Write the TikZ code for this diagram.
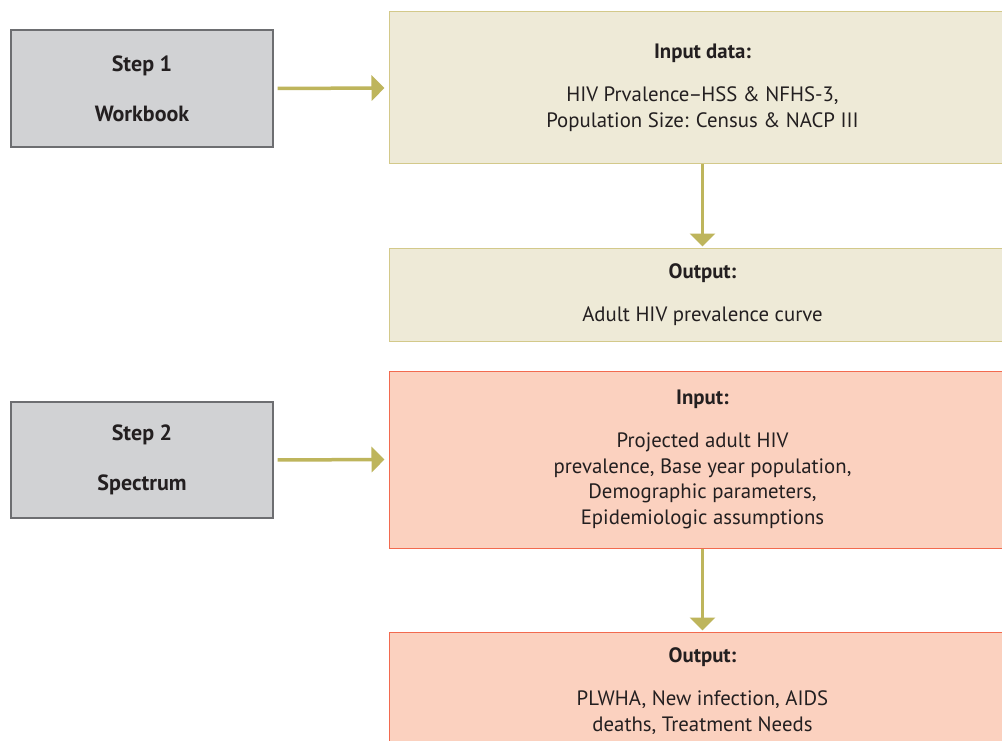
\documentclass[tikz,border=0pt]{standalone}
\usepackage{fontspec}
\setmainfont{PT Sans}
\usepackage{xcolor}
\usepackage{tikz}
\usetikzlibrary{arrows.meta, positioning}

\definecolor{stepgray}{HTML}{D1D2D4}
\definecolor{stepline}{HTML}{6D6E71}
\definecolor{tanfill}{HTML}{EEEAD7}
\definecolor{tanline}{HTML}{D3C98A}
\definecolor{salmonfill}{HTML}{FBD1BF}
\definecolor{salmonline}{HTML}{F26A4F}
\definecolor{olivearrow}{HTML}{BEB55C}
\definecolor{inktext}{HTML}{231F20}

\begin{document}
\begin{tikzpicture}[
  x=1pt, y=-1pt,
  every node/.style={text=inktext, font=\fontsize{20.8}{25.8}\selectfont},
  arrow/.style={-{Triangle[width=25pt, length=13pt]}, line width=3.5pt, olivearrow},
  stepbox/.style={draw=stepline, line width=1.2pt, fill=stepgray, minimum width=262pt, minimum height=117pt, align=center, font=\fontsize{22}{26}\selectfont\bfseries},
  tanbox/.style={draw=tanline, line width=1pt, fill=tanfill, minimum width=627pt, align=center},
  salmonbox/.style={draw=salmonline, line width=1pt, fill=salmonfill, minimum width=627pt, align=center}
]
\useasboundingbox (0,0) rectangle (1002,741);
\clip (0,0) rectangle (1002,741);
\fill[white] (0,0) rectangle (1002,741);

% step 1
\node[stepbox] (stepOne) at (142,88.5) {Step 1\\[24pt]Workbook};
\node[tanbox, minimum height=152pt] (inputData) at (702.5,88) {\textbf{Input data:}\\[17pt]HIV Prvalence\kern-1pt--\kern-1ptHSS \& NFHS-3,\\Population Size: Census \& NACP III};
\node[tanbox, minimum height=93pt] (outputCurve) at (702.5,294.5) {\textbf{Output:}\\[17pt]Adult HIV prevalence curve};
\draw[arrow, shorten <=4pt, shorten >=4pt] (stepOne.east) -- (inputData.west);
\draw[arrow, shorten >=1pt] (inputData.south) -- (outputCurve.north);

% step 2
\node[stepbox, minimum height=116pt] (stepTwo) at (142,460) {Step 2\\[24pt]Spectrum};
\node[salmonbox, minimum height=177pt] (inputProj) at (702.5,459.5) {\textbf{Input:}\\[17pt]Projected adult HIV\\prevalence, Base year population,\\Demographic parameters,\\Epidemiologic assumptions};
\node[salmonbox, minimum height=118pt] (outputDeaths) at (702.5,691) {\textbf{Output:}\\[17pt]PLWHA, New infection, AIDS\\deaths, Treatment Needs};
\draw[arrow, shorten <=4pt, shorten >=4pt] (stepTwo.east) -- (inputProj.west);
\draw[arrow, shorten >=1pt] (inputProj.south) -- (outputDeaths.north);
\end{tikzpicture}
\end{document}
